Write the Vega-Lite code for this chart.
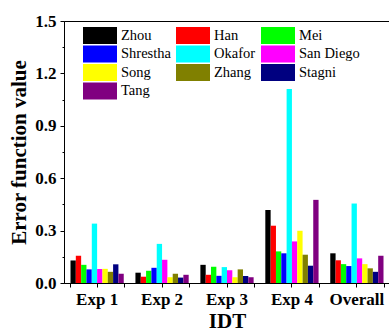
{
  "$schema": "https://vega.github.io/schema/vega-lite/v6.json",
  "autosize": "none",
  "padding": {"left": 64, "top": 21, "right": 0, "bottom": 49},
  "width": 326,
  "height": 262,
  "config": {
    "font": "Liberation Serif",
    "view": {"stroke": "black", "strokeWidth": 1},
    "axis": {"domainColor": "black", "tickColor": "black", "labelColor": "black", "titleColor": "black", "grid": false}
  },
  "data": {
    "values": [
      {"exp": "Exp 1", "method": "Zhou", "value": 0.129},
      {"exp": "Exp 1", "method": "Han", "value": 0.156},
      {"exp": "Exp 1", "method": "Mei", "value": 0.104},
      {"exp": "Exp 1", "method": "Shrestha", "value": 0.078},
      {"exp": "Exp 1", "method": "Okafor", "value": 0.34},
      {"exp": "Exp 1", "method": "San Diego", "value": 0.08},
      {"exp": "Exp 1", "method": "Song", "value": 0.081},
      {"exp": "Exp 1", "method": "Zhang", "value": 0.064},
      {"exp": "Exp 1", "method": "Stagni", "value": 0.107},
      {"exp": "Exp 1", "method": "Tang", "value": 0.053},
      {"exp": "Exp 2", "method": "Zhou", "value": 0.059},
      {"exp": "Exp 2", "method": "Han", "value": 0.036},
      {"exp": "Exp 2", "method": "Mei", "value": 0.07},
      {"exp": "Exp 2", "method": "Shrestha", "value": 0.087},
      {"exp": "Exp 2", "method": "Okafor", "value": 0.224},
      {"exp": "Exp 2", "method": "San Diego", "value": 0.133},
      {"exp": "Exp 2", "method": "Song", "value": 0.033},
      {"exp": "Exp 2", "method": "Zhang", "value": 0.053},
      {"exp": "Exp 2", "method": "Stagni", "value": 0.031},
      {"exp": "Exp 2", "method": "Tang", "value": 0.047},
      {"exp": "Exp 3", "method": "Zhou", "value": 0.104},
      {"exp": "Exp 3", "method": "Han", "value": 0.047},
      {"exp": "Exp 3", "method": "Mei", "value": 0.093},
      {"exp": "Exp 3", "method": "Shrestha", "value": 0.041},
      {"exp": "Exp 3", "method": "Okafor", "value": 0.091},
      {"exp": "Exp 3", "method": "San Diego", "value": 0.073},
      {"exp": "Exp 3", "method": "Song", "value": 0.033},
      {"exp": "Exp 3", "method": "Zhang", "value": 0.078},
      {"exp": "Exp 3", "method": "Stagni", "value": 0.04},
      {"exp": "Exp 3", "method": "Tang", "value": 0.033},
      {"exp": "Exp 4", "method": "Zhou", "value": 0.418},
      {"exp": "Exp 4", "method": "Han", "value": 0.328},
      {"exp": "Exp 4", "method": "Mei", "value": 0.181},
      {"exp": "Exp 4", "method": "Shrestha", "value": 0.17},
      {"exp": "Exp 4", "method": "Okafor", "value": 1.111},
      {"exp": "Exp 4", "method": "San Diego", "value": 0.238},
      {"exp": "Exp 4", "method": "Song", "value": 0.299},
      {"exp": "Exp 4", "method": "Zhang", "value": 0.162},
      {"exp": "Exp 4", "method": "Stagni", "value": 0.099},
      {"exp": "Exp 4", "method": "Tang", "value": 0.476},
      {"exp": "Overall", "method": "Zhou", "value": 0.17},
      {"exp": "Overall", "method": "Han", "value": 0.13},
      {"exp": "Overall", "method": "Mei", "value": 0.108},
      {"exp": "Overall", "method": "Shrestha", "value": 0.097},
      {"exp": "Overall", "method": "Okafor", "value": 0.455},
      {"exp": "Overall", "method": "San Diego", "value": 0.141},
      {"exp": "Overall", "method": "Song", "value": 0.108},
      {"exp": "Overall", "method": "Zhang", "value": 0.084},
      {"exp": "Overall", "method": "Stagni", "value": 0.064},
      {"exp": "Overall", "method": "Tang", "value": 0.156}
    ]
  },
  "encoding": {
    "x": {
      "field": "exp", "type": "nominal", "sort": null,
      "scale": {"paddingInner": 0.18, "paddingOuter": 0.1}
    },
    "xOffset": {
      "field": "method", "type": "nominal",
      "sort": ["Zhou", "Han", "Mei", "Shrestha", "Okafor", "San Diego", "Song", "Zhang", "Stagni", "Tang"],
      "scale": {"paddingInner": 0, "paddingOuter": 0}
    },
    "y": {
      "field": "value", "type": "quantitative",
      "scale": {"domain": [0, 1.5], "nice": false},
      "axis": {
        "title": "Error function value",
        "titleFontSize": 21, "titleFontWeight": "bold", "titlePadding": 5,
        "values": [0, 0.15, 0.3, 0.45, 0.6, 0.75, 0.9, 1.05, 1.2, 1.35, 1.5],
        "labelExpr": "abs(datum.value*10 - round(datum.value*10)) < 0.01 ? format(datum.value, '.1f') : ''",
        "labelFontSize": 17, "labelFontWeight": "bold", "labelPadding": 4,
        "tickSize": {"condition": {"test": "abs(datum.value*10 - round(datum.value*10)) < 0.01", "value": 4}, "value": 2}
      }
    }
  },
  "layer": [
    {
      "mark": {"type": "bar"},
      "encoding": {
        "x": {
          "field": "exp", "type": "nominal", "sort": null,
          "axis": {
            "title": "IDT", "titleFontSize": 21, "titleFontWeight": "bold", "titlePadding": 3,
            "labelAngle": 0, "labelFontSize": 17, "labelFontWeight": "bold", "labelPadding": 4, "tickSize": 4
          }
        },
        "color": {
          "field": "method", "type": "nominal",
          "sort": ["Zhou", "Han", "Mei", "Shrestha", "Okafor", "San Diego", "Song", "Zhang", "Stagni", "Tang"],
          "scale": {
            "domain": ["Zhou", "Han", "Mei", "Shrestha", "Okafor", "San Diego", "Song", "Zhang", "Stagni", "Tang"],
            "range": ["#000000", "#FF0000", "#00FF00", "#0000FF", "#00FFFF", "#FF00FF", "#FFFF00", "#808000", "#000080", "#800080"]
          },
          "legend": {
            "title": null, "orient": "none", "legendX": 19, "legendY": 6, "direction": "horizontal",
            "columns": 3, "columnPadding": 5, "rowPadding": 1.5, "padding": 0,
            "symbolType": "M-1,-1H3V1H-1Z", "symbolSize": 289, "symbolStrokeWidth": 0, "symbolOpacity": 1,
            "labelOffset": 21, "labelFontSize": 14.5, "labelFont": "Liberation Serif", "labelColor": "black"
          }
        }
      }
    },
    {
      "mark": {"type": "bar", "opacity": 0},
      "encoding": {
        "x": {
          "field": "exp", "type": "nominal", "sort": null,
          "axis": {"orient": "bottom", "title": null, "labels": false, "domain": false, "tickBand": "extent", "tickSize": 4}
        }
      }
    }
  ],
  "resolve": {"axis": {"x": "independent"}}
}
